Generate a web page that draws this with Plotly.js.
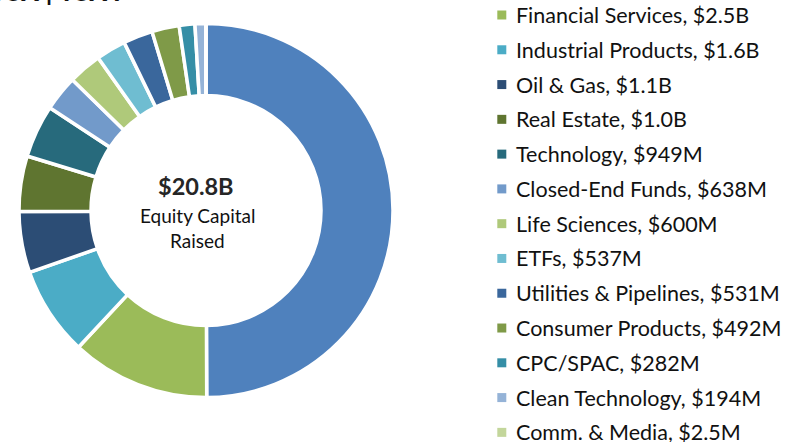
<!DOCTYPE html>
<html>
<head>
<meta charset="utf-8">
<script src="https://cdn.plot.ly/plotly-3.0.1.min.js"></script>
<style>html,body{margin:0;padding:0;background:#fff;}#chart{width:787px;height:442px;}</style>
</head>
<body>
<div id="chart"></div>
<script>
// ---- data ----
const sectors = ["Mining", "Financial Services", "Industrial Products", "Oil & Gas", "Real Estate",
  "Technology", "Closed-End Funds", "Life Sciences", "ETFs", "Utilities & Pipelines",
  "Consumer Products", "CPC/SPAC", "Clean Technology", "Comm. & Media"];
const valuesB = [10.4, 2.5, 1.6, 1.1, 1.0, 0.949, 0.638, 0.6, 0.537, 0.531, 0.492, 0.282, 0.194, 0.0025];
const valueLabels = ["$10.4B", "$2.5B", "$1.6B", "$1.1B", "$1.0B", "$949M", "$638M", "$600M",
  "$537M", "$531M", "$492M", "$282M", "$194M", "$2.5M"];
const colors = ["#4F81BD", "#9BBB59", "#4BACC6", "#2C4D75", "#5F7530", "#276A7C", "#729ACA",
  "#AFC97A", "#6FBDD1", "#3A679C", "#7F9A48", "#358EA6", "#95B3D7", "#C3D69B"];
const chartTitle = "TSX | TSXV";
const totalLabel = "$20.8B";
const centerLines = ["Equity Capital", "Raised"];

// ---- layout helpers (pixel -> paper) ----
const W = 787, H = 442;
const px = x => x / W;
const py = y => 1 - y / H;
const FONT = "Lato, 'Open Sans', sans-serif";

const cx = 206, cy = 210.5, R = 187;

const trace = {
  type: "pie",
  labels: sectors,
  values: valuesB,
  sort: false,
  direction: "clockwise",
  rotation: 0,
  hole: 0.615,
  textinfo: "none",
  hoverinfo: "label+value",
  marker: { colors: colors, line: { color: "#ffffff", width: 3.5 } },
  domain: { x: [px(cx - R), px(cx + R)], y: [py(cy + R), py(cy - R)] },
  showlegend: false
};

const annotations = [];
const shapes = [];

// title (partly cut off at the top, as in the source)
annotations.push({
  text: "<b>" + chartTitle + "</b>", xref: "paper", yref: "paper",
  x: px(-12), y: py(9), xanchor: "left", yanchor: "bottom", showarrow: false,
  font: { family: FONT, size: 27, color: "#111" }
});

// centre text
annotations.push({
  text: "<b>" + totalLabel + "</b>", xref: "paper", yref: "paper",
  x: px(196), y: py(186), xanchor: "center", yanchor: "middle", showarrow: false,
  font: { family: FONT, size: 23.5, color: "#262626" }
});
centerLines.forEach((t, i) => {
  annotations.push({
    text: t, xref: "paper", yref: "paper",
    x: px(197), y: py(215 + i * 26), xanchor: "center", yanchor: "middle", showarrow: false,
    font: { family: FONT, size: 19, color: "#111" }
  });
});

// legend (first entry sits above the visible area)
const legStep = 34.78;
const legTop = 15 - legStep;
sectors.forEach((s, i) => {
  const yc = legTop + i * legStep;
  shapes.push({
    type: "rect", xref: "paper", yref: "paper",
    x0: px(497.3), x1: px(506.3), y0: py(yc + 4.5), y1: py(yc - 4.5),
    fillcolor: colors[i], line: { width: 0 }
  });
  annotations.push({
    text: s + ", " + valueLabels[i], xref: "paper", yref: "paper",
    x: px(514), y: py(yc), xanchor: "left", yanchor: "middle", showarrow: false,
    font: { family: FONT, size: 21.5, color: "#111" }
  });
});

const layout = {
  width: W, height: H,
  margin: { l: 0, r: 0, t: 0, b: 0, autoexpand: false },
  paper_bgcolor: "#fff",
  showlegend: false,
  annotations: annotations,
  shapes: shapes
};

Plotly.newPlot("chart", [trace], layout, { displayModeBar: false, staticPlot: true });
</script>
</body>
</html>
